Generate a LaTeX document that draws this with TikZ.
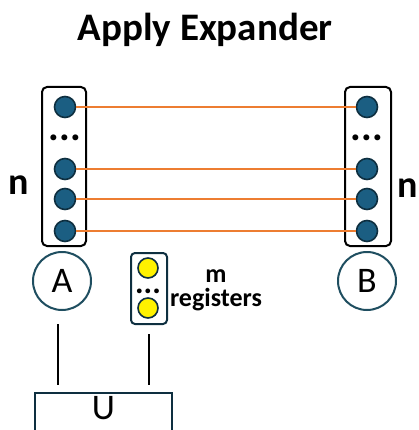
\documentclass[tikz,border=0pt]{standalone}
\usepackage{fontspec}
\setmainfont{Carlito}
\usetikzlibrary{positioning}
\definecolor{Tangerine}{HTML}{ED7D31}
\definecolor{Deepsea}{HTML}{1B5E82}
\definecolor{Navy}{HTML}{0E2F40}
\definecolor{Ring}{HTML}{1F4E60}
\definecolor{Lemon}{HTML}{FFF200}

\begin{document}
\begin{tikzpicture}[x=1pt,y=-1pt,
  qubit/.style={circle, draw=Navy, line width=1.6pt, fill=Deepsea, minimum size=21pt, inner sep=0pt},
  ancilla/.style={circle, draw=Navy, line width=1.6pt, fill=Lemon, minimum size=20pt, inner sep=0pt},
  regbox/.style={draw=black, line width=2pt, rounded corners=5pt, minimum width=44pt, minimum height=159pt},
  party/.style={circle, draw=Ring, line width=2pt, minimum size=58pt, inner sep=0pt, font=\fontsize{36}{40}\selectfont},
  wire/.style={Tangerine, line width=2.4pt},
  leg/.style={black, line width=1.2pt},
  dots/.style={font=\fontsize{40}{42}\selectfont\bfseries, inner sep=0pt},
  tag/.style={font=\fontsize{38}{42}\selectfont\bfseries}]
\useasboundingbox (0,0) rectangle (419,430);
\clip (0,0) rectangle (419,430);

% Title
\node[font=\fontsize{39}{44}\selectfont\bfseries] (title) at (205,30) {Apply Expander};

% Registers of A and B
\node[regbox] (boxA) at (64,166.5) {};
\node[regbox, minimum width=46pt] (boxB) at (368,166.5) {};

\node[qubit] (a1) at (65,107) {};
\node[dots] (adots) at (65,138) {...};
\node[qubit] (a2) at (65,169) {};
\node[qubit] (a3) at (65,199) {};
\node[qubit] (a4) at (65,231) {};

\node[qubit] (b1) at (367,107) {};
\node[dots] (bdots) at (367,138) {...};
\node[qubit] (b2) at (367,169) {};
\node[qubit] (b3) at (367,199) {};
\node[qubit] (b4) at (367,231) {};

% Shared pairs
\foreach \i in {1,...,4}
  \draw[wire] (a\i) -- (b\i);

\node[tag] (nA) at (19,185) {n};
\node[tag] (nB) at (408,188) {n};

% Parties
\node[party] (A) at (62,281) {A};
\node[party] (B) at (367,281) {B};

% Ancilla register
\node[draw=Navy, line width=2pt, rounded corners=4pt, minimum width=36pt, minimum height=71pt] (regs) at (149,288.5) {};
\node[ancilla] (m1) at (148,268) {};
\node[dots, font=\fontsize{32}{34}\selectfont\bfseries] (mdots) at (148,291) {...};
\node[ancilla] (m2) at (148,308) {};
\node[font=\fontsize{26}{28}\selectfont\bfseries, align=center] (mlabel) at (216,290) {m\\[-4pt]registers};

% Unitary
\node[draw=Navy, line width=2pt, anchor=north, minimum width=137pt, text depth=24pt, inner ysep=3pt, font=\fontsize{36}{40}\selectfont] (U) at (103.5,392) {U};

\draw[leg, shorten <=13pt, shorten >=7pt] ([xshift=-4pt]A.south) -- ([xshift=-4pt]A.south |- U.north);
\draw[leg, shorten <=9pt, shorten >=7pt] (regs.south) -- (regs.south |- U.north);
\end{tikzpicture}
\end{document}
